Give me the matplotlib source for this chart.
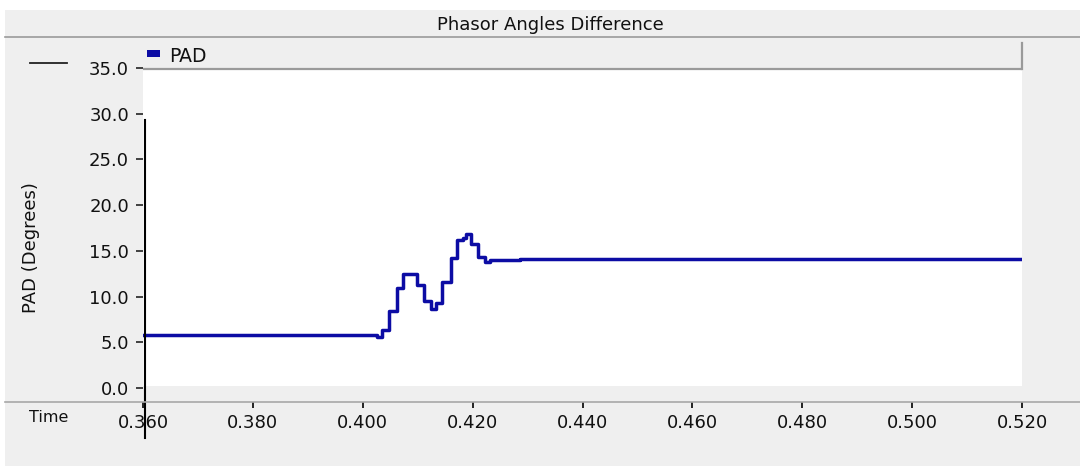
import numpy as np
import matplotlib
matplotlib.use('Agg')
import matplotlib.pyplot as plt
from matplotlib.patches import Rectangle
from matplotlib.lines import Line2D
import matplotlib.transforms as mtrans

plt.rcParams['font.family'] = ['DejaVu Sans']

# step points (time in s, angle in degrees)
time = [0.3600, 0.40255, 0.40345, 0.40473, 0.40618, 0.40727, 0.40982, 0.41109,
        0.41236, 0.41327, 0.41436, 0.41600, 0.41709, 0.41818, 0.41873, 0.41964,
        0.42091, 0.42218, 0.42309, 0.42855, 0.5200]
pad = [5.80, 5.58, 6.34, 8.42, 10.94, 12.47, 11.27, 9.52,
       8.64, 9.30, 11.59, 14.22, 16.19, 16.41, 16.84, 15.75,
       14.33, 13.78, 13.95, 14.14, 14.14]

xticks = [0.360, 0.380, 0.400, 0.420, 0.440, 0.460, 0.480, 0.500, 0.520]
yticks = [0.0, 5.0, 10.0, 15.0, 20.0, 25.0, 30.0, 35.0]

BG = '#efefef'
LINEC = '#0c0ca4'
W, H = 1080, 466

def px(x, y):
    # pixel (top-left origin) -> figure fraction
    return x / W, 1 - y / H

fig = plt.figure(figsize=(W / 100, H / 100), dpi=100, facecolor=BG)

# white margins at top and left
fig.add_artist(Rectangle((0, 1 - 10 / H), 1, 10 / H, transform=fig.transFigure,
                         facecolor='white', edgecolor='none', zorder=0))
fig.add_artist(Rectangle((0, 0), 5 / W, 1, transform=fig.transFigure,
                         facecolor='white', edgecolor='none', zorder=0))

# plot area spans x 143..1022, y 41..402 (pixels)
left, bottom = 143 / W, (H - 402) / H
ax = fig.add_axes([left, bottom, 879 / W, 361 / H], facecolor='white')

ax.step(time, pad, where='post', color=LINEC, lw=2.5, zorder=3)

ax.set_xlim(0.360, 0.520)
ax.set_ylim(-1.53, 37.95)
ax.set_xticks(xticks)
ax.set_xticklabels(['%.3f' % t for t in xticks])
ax.set_yticks(yticks)
ax.set_yticklabels(['%.1f' % v for v in yticks])
ax.tick_params(axis='x', direction='out', length=4.5, width=1.4, color='#222222',
               pad=4, labelsize=13, labelcolor='#111111')
ax.tick_params(axis='y', direction='out', length=5, width=1.2, color='#222222',
               pad=5, labelsize=13, labelcolor='#111111')
for s in ax.spines.values():
    s.set_visible(False)

# gray band at bottom of plot area and legend bar at top
band_h = 16 / 361
ax.add_patch(Rectangle((0, 0), 1, band_h, transform=ax.transAxes,
                       facecolor=BG, edgecolor='none', zorder=1))
leg_y0 = (402 - 69) / 361
ax.add_patch(Rectangle((0, leg_y0), 1, 1 - leg_y0, transform=ax.transAxes,
                       facecolor=BG, edgecolor='none', zorder=1))
ax.plot([0, 1], [leg_y0, leg_y0], transform=ax.transAxes, color='#9a9a9a',
        lw=1.6, zorder=2)
ax.plot([1, 1], [leg_y0, 0.995], transform=ax.transAxes, color='#9a9a9a',
        lw=1.6, zorder=2, clip_on=False)

# legend entry
fig.add_artist(Rectangle(px(147, 57), 13 / W, 7 / H, transform=fig.transFigure,
                         facecolor=LINEC, edgecolor='none'))
fig.text(*px(169, 56), 'PAD', fontsize=13.5, va='center', ha='left', color='#111111')

# cursor line
trans = mtrans.blended_transform_factory(ax.transData, ax.transAxes)
ax.plot([0.36036, 0.36036], [(402 - 120) / 361, (402 - 438) / 361],
        transform=trans, color='black', lw=1.5, clip_on=False, zorder=4)

# separators
fig.add_artist(Line2D([5 / W, 1], [1 - 37 / H] * 2, transform=fig.transFigure,
                      color='#9a9a9a', lw=1.2))
fig.add_artist(Line2D([5 / W, 1], [1 - 402 / H] * 2, transform=fig.transFigure,
                      color='#a8a8a8', lw=1.2))

# left dash
fig.add_artist(Line2D([30 / W, 67 / W], [1 - 63 / H] * 2, transform=fig.transFigure,
                      color='#222222', lw=1.3))

fig.text(*px(550, 25), 'Phasor Angles Difference', fontsize=13, ha='center',
         va='center', color='#111111')
fig.text(*px(31, 248), 'PAD (Degrees)', fontsize=13, rotation=90, ha='center',
         va='center', color='#111111')
fig.text(*px(49, 417), 'Time', fontsize=11.5, ha='center', va='center', color='#111111')

fig.savefig('out.png', dpi=100, facecolor=BG)
